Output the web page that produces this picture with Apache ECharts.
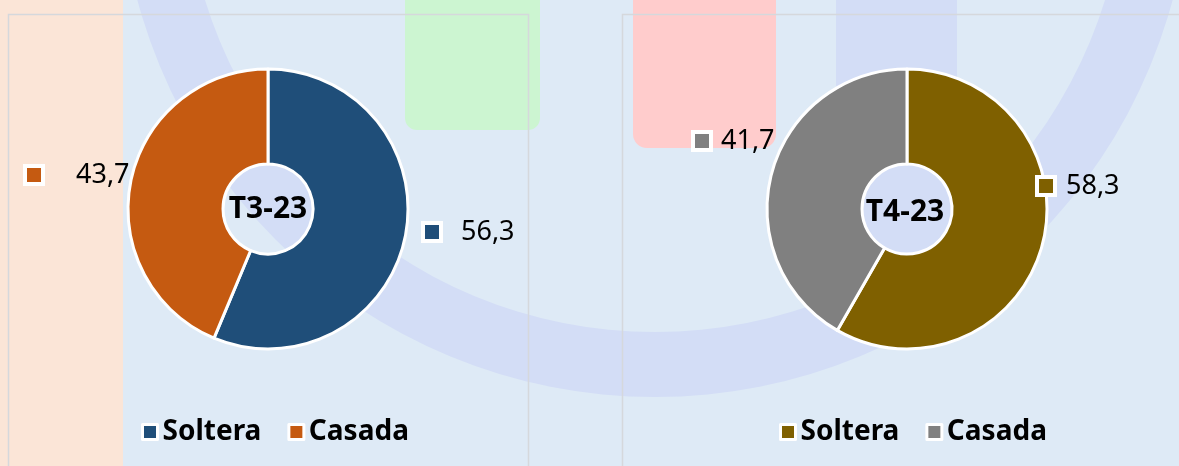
<!DOCTYPE html>
<html>
<head>
<meta charset="utf-8">
<style>
  html, body { margin: 0; padding: 0; background: #DEEAF6; }
  #chart { width: 1179px; height: 466px; }
</style>
<script src="https://cdn.jsdelivr.net/npm/echarts@6/dist/echarts.min.js"></script>
</head>
<body>
<div id="chart"></div>
<script>
// datos
var categorias = ['Soltera', 'Casada'];
var periodos = ['T3-23', 'T4-23'];
var valoresT3 = [56.3, 43.7];
var valoresT4 = [58.3, 41.7];

// colores de cada trimestre
var coloresT3 = ['#1F4E79', '#C55A11'];
var coloresT4 = ['#7F6000', '#808080'];

// sitio de cada etiqueta: [x del cuadrito, y centro, hueco hasta el número]
var posEtiquetas = [
  [[425, 232, 22], [27, 175, 35]],
  [[1039, 186, 13], [695, 141, 12]]
];

var chart = echarts.init(document.getElementById('chart'));

var fuente = '"Noto Sans", "DejaVu Sans", sans-serif';

function formatoComa(v) {
  return v.toFixed(1).replace('.', ',');
}

// arma los datos de un anillo con su etiqueta
function armarDatos(valores, colores, s) {
  return categorias.map(function (nombre, i) {
    return {
      name: nombre,
      value: valores[i],
      itemStyle: { color: colores[i] },
      label: {
        formatter: '{m|}{g|}{v|' + formatoComa(valores[i]) + '}',
        rich: {
          m: { width: 14, height: 14, backgroundColor: colores[i], borderColor: '#fff', borderWidth: 4 },
          g: { width: posEtiquetas[s][i][2] },
          v: { fontSize: 27, color: '#000', fontFamily: fuente }
        }
      }
    };
  });
}

function armarLeyenda(colores, izq) {
  return {
    data: categorias.map(function (n, i) {
      return { name: n, itemStyle: { color: colores[i], borderColor: '#fff', borderWidth: 3 } };
    }),
    left: izq,
    top: 418,
    padding: 0,
    icon: 'rect',
    itemWidth: 15,
    itemHeight: 15,
    itemGap: 26,
    selectedMode: false,
    textStyle: { fontSize: 28, fontWeight: 'bold', color: '#000', fontFamily: fuente }
  };
}

function armarSerie(valores, colores, s, cx) {
  return {
    name: periodos[s],
    type: 'pie',
    radius: [45, 140],
    center: [cx, 209],
    startAngle: 90,
    clockwise: true,
    silent: true,
    avoidLabelOverlap: false,
    itemStyle: { borderColor: '#fff', borderWidth: 3 },
    label: { show: true, position: 'outside' },
    labelLine: { show: false },
    emphasis: { disabled: true },
    labelLayout: function (p) {
      var pos = posEtiquetas[p.seriesIndex][p.dataIndex];
      return { x: pos[0], y: pos[1], align: 'left', verticalAlign: 'middle' };
    },
    data: armarDatos(valores, colores, s)
  };
}

var lavanda = '#D3DDF6';

var option = {
  backgroundColor: '#DEEAF6',
  animation: false,
  // fondo decorativo
  graphic: [
    { type: 'rect', z: 0, shape: { x: 0, y: 0, width: 123, height: 466 }, style: { fill: '#FBE5D7' } },
    { type: 'ring', z: 0, shape: { cx: 655, cy: -139, r: 536, r0: 471 }, style: { fill: lavanda } },
    { type: 'rect', z: 0, shape: { x: 836, y: 0, width: 121, height: 320 }, style: { fill: lavanda } },
    { type: 'rect', z: 0, shape: { x: 405, y: -20, width: 135, height: 150, r: 12 }, style: { fill: '#CCF5D1' } },
    { type: 'rect', z: 0, shape: { x: 633, y: -20, width: 143, height: 168, r: 14 }, style: { fill: '#FFCCCC' } },
    { type: 'rect', z: 1, shape: { x: 8.5, y: 14.5, width: 520, height: 470 }, style: { fill: 'none', stroke: '#D5D8DC', lineWidth: 1.5 } },
    { type: 'rect', z: 1, shape: { x: 622.5, y: 14.5, width: 620, height: 470 }, style: { fill: 'none', stroke: '#D5D8DC', lineWidth: 1.5 } },
    // texto del centro
    { type: 'text', z: 10, x: 268, y: 209, style: { text: periodos[0], font: 'bold 30px ' + fuente, fill: '#000', align: 'center', verticalAlign: 'middle' } },
    { type: 'text', z: 10, x: 905, y: 212, style: { text: periodos[1], font: 'bold 30px ' + fuente, fill: '#000', align: 'center', verticalAlign: 'middle' } }
  ],
  legend: [
    armarLeyenda(coloresT3, 141),
    armarLeyenda(coloresT4, 779)
  ],
  series: [
    armarSerie(valoresT3, coloresT3, 0, 268),
    armarSerie(valoresT4, coloresT4, 1, 907)
  ]
};

chart.setOption(option);
</script>
</body>
</html>
